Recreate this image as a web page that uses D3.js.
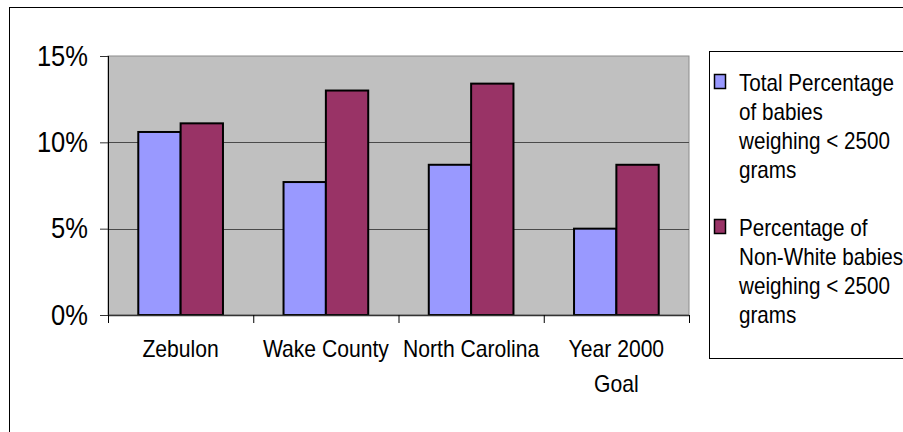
<!DOCTYPE html>
<html>
<head>
<meta charset="utf-8">
<script src="https://cdn.jsdelivr.net/npm/d3@7"></script>
<style>
  html, body { margin: 0; padding: 0; background: #fff; overflow: hidden; }
  svg { display: block; font-family: "Liberation Sans", Arial, sans-serif; }
</style>
</head>
<body>
<svg id="chart" width="903" height="432"></svg>
<script>
// ---- data ----
const categories = ["Zebulon", "Wake County", "North Carolina", "Year 2000\nGoal"];
const seriesNames = [
  "Total Percentage of babies weighing < 2500 grams",
  "Percentage of Non-White babies weighing < 2500 grams"
];
const legendLines = [
  ["Total Percentage", "of babies", "weighing < 2500", "grams"],
  ["Percentage of", "Non-White babies", "weighing < 2500", "grams"]
];
const totalValues = [10.6, 7.7, 8.7, 5.0];
const nonWhiteValues = [11.1, 13.0, 13.4, 8.7];
const yTicks = [0, 5, 10, 15];
const seriesColors = ["#9999ff", "#993366"];

// ---- layout ----
const K = 0.88; // horizontal text compression
const plot = { left: 108, right: 689, top: 56, bottom: 315 };
const svg = d3.select("#chart");

function squeeze(sel, k) {
  sel.each(function () {
    const l = this.getComputedTextLength();
    this.setAttribute("textLength", l * (k || K));
    this.setAttribute("lengthAdjust", "spacingAndGlyphs");
  });
}

// outer frame
svg.append("rect")
  .attr("x", 9.5).attr("y", 7.5).attr("width", 1200).attr("height", 1200)
  .attr("fill", "#fff").attr("stroke", "#000").attr("stroke-width", 1);

const x0 = d3.scaleBand().domain(categories)
  .range([plot.left, plot.right]).paddingInner(0.417).paddingOuter(0.2085);
const x1 = d3.scaleBand().domain([0, 1]).range([0, x0.bandwidth()]);
const y = d3.scaleLinear().domain([0, 15]).range([plot.bottom, plot.top]);

// plot background
svg.append("rect")
  .attr("x", plot.left).attr("y", plot.top)
  .attr("width", plot.right - plot.left).attr("height", plot.bottom - plot.top)
  .attr("fill", "#c0c0c0").attr("stroke", "#8c8c8c").attr("stroke-width", 1);

// gridlines
svg.append("g").selectAll("line")
  .data(yTicks.filter(d => d > 0 && d < 15))
  .join("line")
  .attr("x1", plot.left).attr("x2", plot.right)
  .attr("y1", d => Math.round(y(d)) + 0.5).attr("y2", d => Math.round(y(d)) + 0.5)
  .attr("stroke", "#4a4a4a").attr("stroke-width", 1);

// bars
const rows = categories.map((c, i) => ({ cat: c, vals: [totalValues[i], nonWhiteValues[i]] }));
const groups = svg.append("g").selectAll("g")
  .data(rows).join("g")
  .attr("transform", d => `translate(${x0(d.cat)},0)`);
groups.selectAll("rect")
  .data(d => d.vals.map((v, s) => ({ v, s })))
  .join("rect")
  .attr("x", d => x1(d.s))
  .attr("y", d => y(d.v))
  .attr("width", x1.bandwidth())
  .attr("height", d => y(0) - y(d.v))
  .attr("fill", d => seriesColors[d.s])
  .attr("stroke", "#000").attr("stroke-width", 2);

// y axis
const yAxis = svg.append("g")
  .attr("transform", `translate(${plot.left},0)`)
  .call(d3.axisLeft(y).tickValues(yTicks).tickFormat(d => d + "%").tickSize(8).tickPadding(12));
yAxis.select(".domain").attr("stroke", "#000").attr("d", `M0.5,${plot.top}V${plot.bottom + 7}`);
yAxis.selectAll(".tick line").attr("stroke", "#333");
yAxis.selectAll(".tick text")
  .attr("font-size", 29).attr("fill", "#000")
  .attr("font-family", "'Liberation Sans', Arial, sans-serif")
  .call(squeeze);

// x axis line + boundary ticks
svg.append("line")
  .attr("x1", plot.left).attr("x2", plot.right)
  .attr("y1", plot.bottom + 0.5).attr("y2", plot.bottom + 0.5)
  .attr("stroke", "#333").attr("stroke-width", 1.5);
const step = x0.step();
svg.append("g").selectAll("line")
  .data(d3.range(categories.length + 1))
  .join("line")
  .attr("x1", i => plot.left + i * step + 0.5).attr("x2", i => plot.left + i * step + 0.5)
  .attr("y1", plot.bottom).attr("y2", plot.bottom + 8)
  .attr("stroke", "#000").attr("stroke-width", 1);

// category labels
const catG = svg.append("g").selectAll("text")
  .data(categories).join("text")
  .attr("text-anchor", "middle")
  .attr("font-size", 24).attr("fill", "#000")
  .attr("x", d => x0(d) + x0.bandwidth() / 2)
  .attr("y", 357);
catG.each(function (d) {
  const t = d3.select(this);
  const lines = d.split("\n");
  t.selectAll("tspan").data(lines).join("tspan")
    .attr("x", x0(d) + x0.bandwidth() / 2)
    .attr("dy", (l, i) => i === 0 ? 0 : 35)
    .text(l => l);
});
catG.selectAll("tspan").call(squeeze);

// legend
const lg = svg.append("g");
lg.append("rect")
  .attr("x", 709.5).attr("y", 51.5).attr("width", 400).attr("height", 307)
  .attr("fill", "#fff").attr("stroke", "#000").attr("stroke-width", 1);
const entryBase = [91, 236];
const lineH = 29;
seriesNames.forEach((name, s) => {
  lg.append("rect")
    .attr("x", 714.5).attr("y", entryBase[s] - 16.5)
    .attr("width", 11).attr("height", 14)
    .attr("fill", seriesColors[s]).attr("stroke", "#000").attr("stroke-width", 1.5);
  lg.append("g").selectAll("text")
    .data(legendLines[s]).join("text")
    .attr("x", 739).attr("y", (l, i) => entryBase[s] + i * lineH)
    .attr("font-size", 24).attr("fill", "#000")
    .text(l => l)
    .call(sel => squeeze(sel, 0.86));
});
</script>
</body>
</html>
